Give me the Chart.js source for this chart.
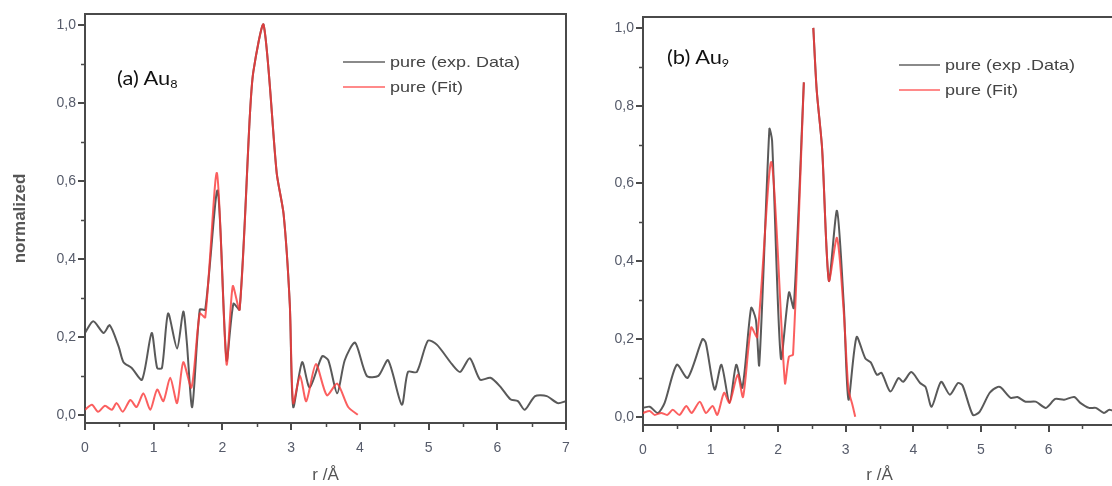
<!DOCTYPE html>
<html>
<head>
<meta charset="utf-8">
<script src="https://cdn.jsdelivr.net/npm/chart.js@4/dist/chart.umd.min.js"></script>
<style>
  html, body { margin:0; padding:0; background:#fff; width:1112px; height:486px; overflow:hidden; }
  #wrap { position:relative; width:1112px; height:486px; overflow:hidden; }
  canvas { position:absolute; top:0; }
  .lbl { position:absolute; white-space:nowrap; transform-origin:left center; }
  .ann { font-family:Lato, "Open Sans", sans-serif; font-size:19px; color:#111; line-height:22px; transform:scaleX(1.15); }
  .ann sub { font-size:11px; vertical-align:-3px; }
  .leg { font-family:"Liberation Sans", Arial, sans-serif; font-size:15px; color:#444; line-height:16px; transform:scaleX(1.2); }
  .sw { position:absolute; height:2px; }
</style>
</head>
<body>
<div id="wrap">
  <canvas id="cA" width="590" height="486" style="left:0px"></canvas>
  <canvas id="cB" width="540" height="486" style="left:590px"></canvas>

  <div class="lbl ann" style="left:117px; top:67px;">(a) Au<sub>8</sub></div>
  <div class="sw" style="left:343px; top:61px; width:42px; background:#8a8a8a;"></div>
  <div class="lbl leg" style="left:390px; top:54px;">pure (exp. Data)</div>
  <div class="sw" style="left:343px; top:86px; width:42px; background:#ff8a8a;"></div>
  <div class="lbl leg" style="left:390px; top:79px;">pure (Fit)</div>

  <div class="lbl ann" style="left:667px; top:46px;">(b) Au<sub>9</sub></div>
  <div class="sw" style="left:899px; top:64px; width:41px; background:#8a8a8a;"></div>
  <div class="lbl leg" style="left:945px; top:57px;">pure (exp .Data)</div>
  <div class="sw" style="left:899px; top:89px; width:41px; background:#ff8a8a;"></div>
  <div class="lbl leg" style="left:945px; top:82px;">pure (Fit)</div>
</div>
<script>
// ---------- data (r in Å, normalized amplitude) ----------
const xTicksA = [0, 1, 2, 3, 4, 5, 6, 7];
const yTicks = [0.0, 0.2, 0.4, 0.6, 0.8, 1.0];

// (a) Au8 experimental
const rA_exp = [0, 0.12, 0.27, 0.36, 0.49, 0.56, 0.68, 0.83, 0.97, 1.05, 1.12, 1.21, 1.34, 1.43, 1.48, 1.56, 1.67, 1.75, 1.93, 2.06, 2.16, 2.25, 2.4, 2.45, 2.6, 2.79, 2.89, 2.98, 3.03, 3.16, 3.27, 3.45, 3.54, 3.67, 3.78, 3.93, 4.1, 4.27, 4.41, 4.61, 4.7, 4.83, 4.99, 5.12, 5.34, 5.46, 5.6, 5.75, 5.9, 6.04, 6.19, 6.3, 6.4, 6.55, 6.72, 6.88, 7.0];
const vA_exp = [0.21, 0.24, 0.21, 0.23, 0.175, 0.135, 0.12, 0.09, 0.21, 0.12, 0.12, 0.26, 0.17, 0.265, 0.19, 0.02, 0.27, 0.27, 0.575, 0.14, 0.285, 0.27, 0.77, 0.88, 1.0, 0.62, 0.515, 0.285, 0.02, 0.135, 0.07, 0.15, 0.14, 0.055, 0.14, 0.185, 0.10, 0.10, 0.14, 0.026, 0.11, 0.11, 0.19, 0.18, 0.13, 0.11, 0.145, 0.09, 0.095, 0.073, 0.04, 0.035, 0.013, 0.048, 0.048, 0.03, 0.035];
// (a) Au8 fit
const rA_fit = [0, 0.1, 0.19, 0.29, 0.39, 0.46, 0.55, 0.66, 0.75, 0.85, 0.95, 1.05, 1.14, 1.24, 1.34, 1.43, 1.55, 1.67, 1.75, 1.92, 2.06, 2.15, 2.25, 2.4, 2.45, 2.6, 2.79, 2.89, 2.98, 3.03, 3.13, 3.22, 3.36, 3.52, 3.67, 3.83, 3.97];
const vA_fit = [0.013, 0.026, 0.008, 0.023, 0.013, 0.03, 0.008, 0.038, 0.02, 0.055, 0.013, 0.065, 0.035, 0.095, 0.03, 0.135, 0.07, 0.26, 0.25, 0.62, 0.13, 0.33, 0.27, 0.77, 0.88, 1.0, 0.62, 0.515, 0.285, 0.03, 0.1, 0.035, 0.13, 0.05, 0.08, 0.02, 0.0];

// (b) Au9 experimental (null = segment not visible in the source figure)
const rB_exp = [0, 0.1, 0.22, 0.32, 0.5, 0.66, 0.88, 0.93, 1.06, 1.16, 1.28, 1.38, 1.47, 1.6, 1.67, 1.72, 1.87, 1.91, 2.04, 2.16, 2.23, 2.38, 2.45, 2.52, 2.57, 2.65, 2.75, 2.87, 2.97, 3.04, 3.16, 3.29, 3.37, 3.46, 3.53, 3.66, 3.78, 3.85, 3.97, 4.1, 4.18, 4.27, 4.41, 4.54, 4.66, 4.73, 4.88, 4.98, 5.13, 5.25, 5.3, 5.44, 5.54, 5.66, 5.81, 5.96, 6.1, 6.23, 6.38, 6.47, 6.6, 6.7, 6.82, 6.9, 7.0];
const vB_exp = [0.023, 0.026, 0.01, 0.036, 0.134, 0.1, 0.2, 0.19, 0.07, 0.134, 0.036, 0.134, 0.075, 0.28, 0.25, 0.134, 0.74, 0.71, 0.15, 0.32, 0.28, 0.86, null, 1.0, 0.84, 0.69, 0.35, 0.53, 0.29, 0.044, 0.205, 0.15, 0.14, 0.108, 0.113, 0.065, 0.1, 0.09, 0.115, 0.087, 0.077, 0.026, 0.09, 0.057, 0.087, 0.08, 0.005, 0.013, 0.062, 0.077, 0.075, 0.049, 0.051, 0.039, 0.039, 0.023, 0.046, 0.044, 0.051, 0.036, 0.023, 0.023, 0.01, 0.018, 0.012];
// (b) Au9 fit
const rB_fit = [0, 0.1, 0.17, 0.27, 0.36, 0.44, 0.54, 0.64, 0.72, 0.84, 0.93, 1.03, 1.1, 1.2, 1.28, 1.4, 1.48, 1.6, 1.69, 1.9, 2.1, 2.16, 2.22, 2.38, 2.45, 2.52, 2.57, 2.65, 2.75, 2.87, 2.97, 3.04, 3.1, 3.14];
const vB_fit = [0.01, 0.015, 0.005, 0.01, 0.005, 0.018, 0.005, 0.028, 0.01, 0.039, 0.01, 0.028, 0.005, 0.062, 0.036, 0.108, 0.051, 0.23, 0.205, 0.655, 0.087, 0.155, 0.16, 0.86, null, 1.0, 0.84, 0.69, 0.35, 0.46, 0.27, 0.07, 0.03, 0.0];

// ---------- helpers ----------
const pts = (xs, ys) => xs.map((x, i) => ({x: x, y: ys[i]}));
const fmt = v => v.toFixed(1).replace('.', ',');
const TICK_FONT = {family: '"Liberation Sans", Arial, sans-serif', size: 14};
const TICK_COLOR = '#565b6a';
const FRAME = '#4a4a4a';

const framePlugin = {
  id: 'frame',
  afterDraw(chart) {
    const {ctx, chartArea: a, scales} = chart;
    ctx.save();
    ctx.strokeStyle = FRAME;
    ctx.lineWidth = 2;
    ctx.beginPath();
    ctx.moveTo(a.left, a.top); ctx.lineTo(a.right, a.top); ctx.lineTo(a.right, a.bottom);
    ctx.stroke();
    // minor ticks
    ctx.lineWidth = 1.5;
    ctx.beginPath();
    for (let v = 0.1; v < 1.0; v += 0.2) {
      const y = Math.round(scales.y.getPixelForValue(v)) + 0.5;
      ctx.moveTo(a.left - 4, y); ctx.lineTo(a.left, y);
    }
    for (let v = 0.5; v < scales.x.max; v += 1) {
      const x = Math.round(scales.x.getPixelForValue(v)) + 0.5;
      ctx.moveTo(x, a.bottom); ctx.lineTo(x, a.bottom + 4);
    }
    ctx.stroke();
    ctx.restore();
  }
};

function makeChart(id, exp, fit, opts) {
  return new Chart(document.getElementById(id), {
    type: 'line',
    data: {
      datasets: [
        {label: 'exp', data: exp, borderColor: 'rgba(75,75,75,0.92)', borderWidth: 2, pointRadius: 0, tension: 0.25, spanGaps: false, order: 1},
        {label: 'fit', data: fit, borderColor: 'rgba(250,55,55,0.8)', borderWidth: 2, pointRadius: 0, tension: 0.25, spanGaps: false, order: 0}
      ]
    },
    options: {
      responsive: false,
      animation: false,
      devicePixelRatio: 1,
      layout: {padding: {top: opts.top, right: opts.right, left: 0, bottom: 0}},
      plugins: {legend: {display: false}, tooltip: {enabled: false}},
      scales: {
        x: {
          type: 'linear', min: 0, max: 7,
          afterFit: s => { s.height = opts.xh; },
          afterBuildTicks: s => { s.ticks = xTicksA.map(v => ({value: v})); },
          ticks: {font: TICK_FONT, color: TICK_COLOR, padding: 10, callback: v => String(v), maxRotation: 0, autoSkip: false},
          grid: {drawOnChartArea: false, drawTicks: true, tickLength: 7, tickColor: FRAME, lineWidth: 2},
          border: {display: true, color: FRAME, width: 2},
          title: {display: true, text: 'r /Å', color: '#555', font: {family: '"Liberation Sans", Arial, sans-serif', size: 17}, padding: {top: 0, bottom: 0}}
        },
        y: {
          type: 'linear', min: -0.021, max: 1.028,
          afterFit: s => { s.width = opts.yw; },
          afterBuildTicks: s => { s.ticks = yTicks.map(v => ({value: v})); },
          ticks: {font: TICK_FONT, color: TICK_COLOR, padding: 2, callback: v => fmt(v)},
          grid: {drawOnChartArea: false, drawTicks: true, tickLength: 7, tickColor: FRAME, lineWidth: 2},
          border: {display: true, color: FRAME, width: 2},
          title: {display: opts.ytitle, text: 'normalized', color: '#555', font: {family: '"Liberation Sans", Arial, sans-serif', size: 17, weight: 'bold'}, padding: {top: 10, bottom: 0}}
        }
      }
    },
    plugins: [framePlugin]
  });
}

makeChart('cA', pts(rA_exp, vA_exp), pts(rA_fit, vA_fit), {top: 14, right: 24, xh: 63, yw: 85, ytitle: true});
makeChart('cB', pts(rB_exp, vB_exp), pts(rB_fit, vB_fit), {top: 17, right: 11, xh: 61, yw: 53, ytitle: false});
</script>
</body>
</html>
